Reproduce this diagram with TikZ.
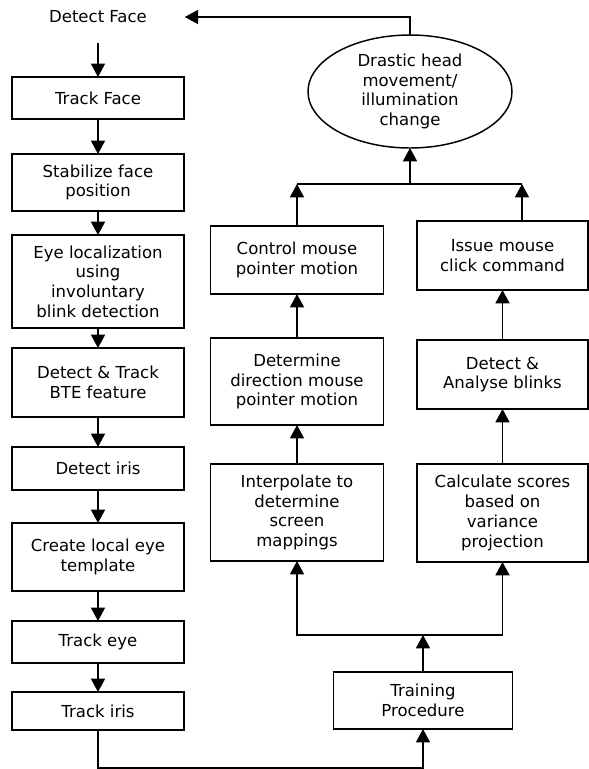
\documentclass[tikz,border=0pt]{standalone}
\usepackage{fontspec}
\setmainfont{DejaVu Sans}
\usetikzlibrary{arrows.meta, shapes.geometric}

\begin{document}
\begin{tikzpicture}[x=0.75pt, y=-0.75pt, >={Triangle[length=10pt, width=10.5pt]},
  line width=1.1pt, font=\fontsize{12.4}{14.8}\selectfont,
  stagebox/.style={draw, align=center, inner sep=2pt, outer sep=0pt, minimum width=129pt},
  decision/.style={draw, ellipse, align=center, inner sep=0pt, outer sep=0pt}]
  \useasboundingbox (0,0) rectangle (589,769);

  \node[minimum width=129pt, minimum height=37.5pt, inner sep=0pt] (detectface) at (98,17) {Detect Face};
  \node[stagebox, minimum height=31.5pt] (trackface) at (98,98) {Track Face};
  \node[stagebox, minimum height=42.75pt] (stabilize) at (98,182.5) {Stabilize face\\position};
  \node[stagebox, minimum height=69.75pt] (eyeloc) at (98,281.5) {Eye localization\\using\\involuntary\\blink detection};
  \node[stagebox, minimum height=51.75pt] (btetrack) at (98,382.5) {Detect \& Track\\BTE feature};
  \node[stagebox, minimum height=32.25pt] (detectiris) at (98,468.5) {Detect iris};
  \node[stagebox, minimum height=51pt] (eyetemplate) at (98,557) {Create local eye\\template};
  \node[stagebox, minimum height=31.5pt] (trackeye) at (98,642) {Track eye};
  \node[stagebox, minimum height=28.5pt] (trackiris) at (98,711) {Track iris};

  \node[stagebox, minimum width=129.75pt, minimum height=51pt] (pointermove) at (297,260) {Control mouse\\pointer motion};
  \node[stagebox, minimum width=129.75pt, minimum height=65.25pt] (direction) at (297,381.5) {Determine\\direction mouse\\pointer motion};
  \node[stagebox, minimum width=129.75pt, minimum height=72.75pt] (interpolate) at (297,512.5) {Interpolate to\\determine\\screen\\mappings};

  \node[stagebox, minimum width=128.25pt, minimum height=51.75pt] (mouseclick) at (502.5,255.5) {Issue mouse\\click command};
  \node[stagebox, minimum width=128.25pt, minimum height=51.75pt] (blinks) at (502.5,374.5) {Detect \&\\Analyse blinks};
  \node[stagebox, minimum width=128.25pt, minimum height=73.5pt] (scores) at (502.5,513) {Calculate scores\\based on\\variance\\projection};

  \node[stagebox, minimum width=134.25pt, minimum height=42.75pt] (training) at (423,700.5) {Training\\Procedure};
  \node[decision, minimum width=153pt, minimum height=84.75pt] (headmove) at (410,91.5) {Drastic head\\movement/\\illumination\\change};

  \coordinate (upperjoin) at (410,184);
  \coordinate (clickout) at (522,184);
  \coordinate (lowerjoin) at (423,635);
  \coordinate (bottomturn) at (423,768);

  \draw[->] (detectface) -- (trackface);
  \foreach \from/\to in {trackface/stabilize, stabilize/eyeloc, eyeloc/btetrack, btetrack/detectiris,
                         detectiris/eyetemplate, eyetemplate/trackeye, trackeye/trackiris}
    \draw[->] (\from) -- (\to);

  \draw[->] (trackiris) |- (bottomturn) -- (training);
  \draw[->] (training) -- (lowerjoin);
  \draw[->] (lowerjoin) -| (interpolate);
  \draw[->] (lowerjoin) -| (scores);

  \foreach \from/\to in {interpolate/direction, direction/pointermove, scores/blinks, blinks/mouseclick}
    \draw[->] (\from) -- (\to);

  \draw[->] (pointermove) -- (pointermove |- upperjoin);
  \draw[->] (clickout |- mouseclick.north) -- (clickout);
  \draw (pointermove |- upperjoin) -- (clickout);
  \draw[->] (upperjoin) -- (headmove);
  \draw[->] (headmove) |- (detectface);
\end{tikzpicture}
\end{document}
